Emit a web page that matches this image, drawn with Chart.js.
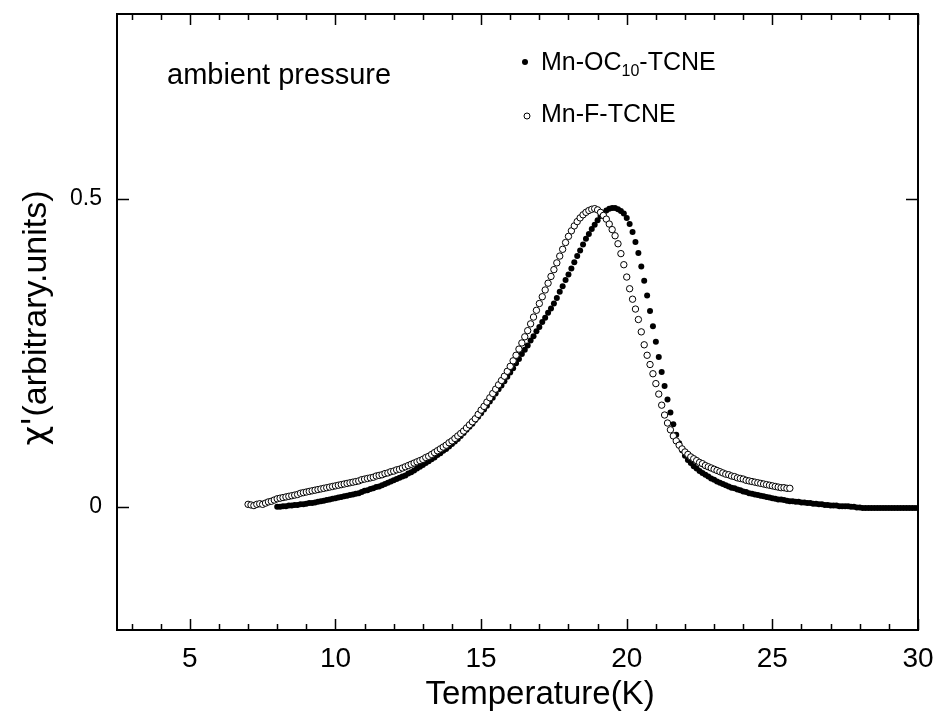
<!DOCTYPE html>
<html lang="en">
<head>
    <meta charset="UTF-8">
    <title>Ambient pressure susceptibility</title>
    <script src="https://cdn.jsdelivr.net/npm/chart.js"></script>
    <style>
        body { margin: 0; padding: 0; background: #fff; }
        canvas { display: block; }
    </style>
</head>
<body>
    <canvas id="chiChart" width="934" height="714"></canvas>

    <script>
        // Mn-OC10-TCNE (filled dots)
        const ocTemps = [
            8.0, 8.1, 8.2, 8.3, 8.4, 8.5, 8.6, 8.7, 8.8, 8.9,
            9.0, 9.1, 9.2, 9.3, 9.4, 9.5, 9.6, 9.7, 9.8, 9.9,
            10.0, 10.1, 10.2, 10.3, 10.4, 10.5, 10.6, 10.7, 10.8, 10.9,
            11.0, 11.1, 11.2, 11.3, 11.4, 11.5, 11.6, 11.7, 11.8, 11.9,
            12.0, 12.1, 12.2, 12.3, 12.4, 12.5, 12.6, 12.7, 12.8, 12.9,
            13.0, 13.1, 13.2, 13.3, 13.4, 13.5, 13.6, 13.7, 13.8, 13.9,
            14.0, 14.1, 14.2, 14.3, 14.4, 14.5, 14.6, 14.7, 14.8, 14.9,
            15.0, 15.1, 15.2, 15.3, 15.4, 15.5, 15.6, 15.7, 15.8, 15.9,
            16.0, 16.1, 16.2, 16.3, 16.4, 16.5, 16.6, 16.7, 16.8, 16.9,
            17.0, 17.1, 17.2, 17.3, 17.4, 17.5, 17.6, 17.7, 17.8, 17.9,
            18.0, 18.1, 18.2, 18.3, 18.4, 18.5, 18.6, 18.7, 18.8, 18.9,
            19.0, 19.1, 19.2, 19.3, 19.4, 19.5, 19.6, 19.7, 19.8, 19.9,
            20.0, 20.1, 20.2, 20.3, 20.4, 20.5, 20.6, 20.7, 20.8, 20.9,
            21.0, 21.1, 21.2, 21.3, 21.4, 21.5, 21.6, 21.7, 21.8, 21.9,
            22.0, 22.1, 22.2, 22.3, 22.4, 22.5, 22.6, 22.7, 22.8, 22.9,
            23.0, 23.1, 23.2, 23.3, 23.4, 23.5, 23.6, 23.7, 23.8, 23.9,
            24.0, 24.1, 24.2, 24.3, 24.4, 24.5, 24.6, 24.7, 24.8, 24.9,
            25.0, 25.1, 25.2, 25.3, 25.4, 25.5, 25.6, 25.7, 25.8, 25.9,
            26.0, 26.1, 26.2, 26.3, 26.4, 26.5, 26.6, 26.7, 26.8, 26.9,
            27.0, 27.1, 27.2, 27.3, 27.4, 27.5, 27.6, 27.7, 27.8, 27.9,
            28.0, 28.1, 28.2, 28.3, 28.4, 28.5, 28.6, 28.7, 28.8, 28.9,
            29.0, 29.1, 29.2, 29.3, 29.4, 29.5, 29.6, 29.7, 29.8, 29.9,
            30.0
        ];
        const ocChi = [
            0.000, 0.000, 0.001, 0.001, 0.002, 0.002, 0.003, 0.003, 0.004, 0.004,
            0.005, 0.006, 0.006, 0.007, 0.008, 0.009, 0.010, 0.011, 0.012, 0.013,
            0.014, 0.015, 0.016, 0.017, 0.018, 0.019, 0.020, 0.021, 0.022, 0.024,
            0.026, 0.027, 0.029, 0.030, 0.032, 0.033, 0.035, 0.037, 0.039, 0.041,
            0.043, 0.045, 0.047, 0.049, 0.051, 0.054, 0.056, 0.059, 0.062, 0.065,
            0.068, 0.071, 0.074, 0.077, 0.080, 0.084, 0.087, 0.091, 0.094, 0.098,
            0.102, 0.106, 0.110, 0.115, 0.120, 0.125, 0.130, 0.135, 0.141, 0.146,
            0.152, 0.158, 0.164, 0.171, 0.177, 0.184, 0.191, 0.197, 0.204, 0.211,
            0.218, 0.225, 0.233, 0.240, 0.248, 0.255, 0.262, 0.270, 0.277, 0.285,
            0.292, 0.300, 0.307, 0.315, 0.322, 0.330, 0.339, 0.349, 0.358, 0.368,
            0.377, 0.387, 0.397, 0.407, 0.416, 0.426, 0.435, 0.443, 0.451, 0.458,
            0.465, 0.472, 0.477, 0.481, 0.484, 0.485, 0.485, 0.483, 0.480, 0.476,
            0.469, 0.459, 0.446, 0.430, 0.412, 0.390, 0.367, 0.343, 0.318, 0.293,
            0.268, 0.243, 0.219, 0.196, 0.174, 0.153, 0.134, 0.117, 0.103, 0.092,
            0.083, 0.076, 0.071, 0.066, 0.062, 0.058, 0.055, 0.052, 0.049, 0.046,
            0.044, 0.041, 0.039, 0.037, 0.035, 0.033, 0.031, 0.030, 0.028, 0.027,
            0.025, 0.024, 0.022, 0.021, 0.020, 0.019, 0.018, 0.017, 0.016, 0.015,
            0.014, 0.013, 0.012, 0.012, 0.011, 0.010, 0.009, 0.009, 0.008, 0.008,
            0.007, 0.007, 0.006, 0.006, 0.005, 0.005, 0.004, 0.004, 0.003, 0.003,
            0.002, 0.002, 0.002, 0.001, 0.001, 0.001, 0.001, 0.000, 0.000, -0.001,
            -0.001, -0.002, -0.002, -0.002, -0.002, -0.002, -0.002, -0.002, -0.002, -0.002,
            -0.002, -0.002, -0.002, -0.002, -0.002, -0.002, -0.002, -0.002, -0.002, -0.002,
            -0.002
        ];

        // Mn-F-TCNE (open circles)
        const fTemps = [
            7.0, 7.1, 7.2, 7.3, 7.4, 7.5, 7.6, 7.7, 7.8, 7.9,
            8.0, 8.1, 8.2, 8.3, 8.4, 8.5, 8.6, 8.7, 8.8, 8.9,
            9.0, 9.1, 9.2, 9.3, 9.4, 9.5, 9.6, 9.7, 9.8, 9.9,
            10.0, 10.1, 10.2, 10.3, 10.4, 10.5, 10.6, 10.7, 10.8, 10.9,
            11.0, 11.1, 11.2, 11.3, 11.4, 11.5, 11.6, 11.7, 11.8, 11.9,
            12.0, 12.1, 12.2, 12.3, 12.4, 12.5, 12.6, 12.7, 12.8, 12.9,
            13.0, 13.1, 13.2, 13.3, 13.4, 13.5, 13.6, 13.7, 13.8, 13.9,
            14.0, 14.1, 14.2, 14.3, 14.4, 14.5, 14.6, 14.7, 14.8, 14.9,
            15.0, 15.1, 15.2, 15.3, 15.4, 15.5, 15.6, 15.7, 15.8, 15.9,
            16.0, 16.1, 16.2, 16.3, 16.4, 16.5, 16.6, 16.7, 16.8, 16.9,
            17.0, 17.1, 17.2, 17.3, 17.4, 17.5, 17.6, 17.7, 17.8, 17.9,
            18.0, 18.1, 18.2, 18.3, 18.4, 18.5, 18.6, 18.7, 18.8, 18.9,
            19.0, 19.1, 19.2, 19.3, 19.4, 19.5, 19.6, 19.7, 19.8, 19.9,
            20.0, 20.1, 20.2, 20.3, 20.4, 20.5, 20.6, 20.7, 20.8, 20.9,
            21.0, 21.1, 21.2, 21.3, 21.4, 21.5, 21.6, 21.7, 21.8, 21.9,
            22.0, 22.1, 22.2, 22.3, 22.4, 22.5, 22.6, 22.7, 22.8, 22.9,
            23.0, 23.1, 23.2, 23.3, 23.4, 23.5, 23.6, 23.7, 23.8, 23.9,
            24.0, 24.1, 24.2, 24.3, 24.4, 24.5, 24.6, 24.7, 24.8, 24.9,
            25.0, 25.1, 25.2, 25.3, 25.4, 25.5, 25.6
        ];
        const fChi = [
            0.004, 0.003, 0.002, 0.004, 0.005, 0.004, 0.006, 0.008, 0.009, 0.011,
            0.013, 0.014, 0.015, 0.016, 0.017, 0.018, 0.019, 0.020, 0.022, 0.023,
            0.024, 0.025, 0.026, 0.027, 0.028, 0.029, 0.030, 0.031, 0.032, 0.033,
            0.034, 0.035, 0.036, 0.037, 0.038, 0.039, 0.040, 0.041, 0.042, 0.044,
            0.045, 0.046, 0.047, 0.048, 0.050, 0.051, 0.052, 0.054, 0.055, 0.057,
            0.058, 0.060, 0.061, 0.063, 0.065, 0.067, 0.069, 0.071, 0.073, 0.075,
            0.077, 0.080, 0.082, 0.085, 0.088, 0.091, 0.094, 0.097, 0.100, 0.104,
            0.107, 0.111, 0.115, 0.119, 0.123, 0.128, 0.133, 0.138, 0.143, 0.150,
            0.157, 0.163, 0.170, 0.177, 0.184, 0.191, 0.198, 0.205, 0.212, 0.220,
            0.228, 0.237, 0.246, 0.256, 0.266, 0.276, 0.286, 0.297, 0.308, 0.319,
            0.330, 0.341, 0.352, 0.363, 0.374, 0.385, 0.396, 0.407, 0.418, 0.429,
            0.439, 0.448, 0.456, 0.463, 0.469, 0.474, 0.478, 0.481, 0.483, 0.484,
            0.482, 0.478, 0.473, 0.467, 0.459, 0.450, 0.440, 0.427, 0.411, 0.393,
            0.373, 0.354, 0.337, 0.321, 0.304, 0.284, 0.263, 0.246, 0.231, 0.216,
            0.200, 0.183, 0.165, 0.149, 0.136, 0.125, 0.115, 0.107, 0.100, 0.094,
            0.089, 0.085, 0.081, 0.078, 0.075, 0.072, 0.070, 0.067, 0.065, 0.063,
            0.061, 0.059, 0.057, 0.055, 0.053, 0.052, 0.050, 0.049, 0.047, 0.046,
            0.045, 0.043, 0.042, 0.041, 0.040, 0.039, 0.038, 0.037, 0.036, 0.035,
            0.034, 0.033, 0.032, 0.031, 0.031, 0.030, 0.030
        ];

        const xMinorTicks = [3, 4, 6, 7, 8, 9, 11, 12, 13, 14, 16, 17, 18, 19, 21, 22, 23, 24, 26, 27, 28, 29];
        const xMajorTicks = [5, 10, 15, 20, 25, 30];
        const yMajorTicks = [0, 0.5];
        const yTickLabels = ['0', '0.5'];

        const toPoints = (xs, ys) => xs.map((x, i) => ({ x: x, y: ys[i] }));

        const NARROW = "'Liberation Sans Narrow', 'Liberation Sans', Arial, sans-serif";
        const SANS = "'Liberation Sans', Arial, sans-serif";

        // frame, inward ticks, labels and legend drawn on top of the chart area
        const decorations = {
            id: 'decorations',
            afterDraw(chart) {
                const { ctx, chartArea: a, scales: { x, y } } = chart;
                ctx.save();
                ctx.strokeStyle = '#000';
                ctx.lineWidth = 2;
                ctx.strokeRect(a.left, a.top, a.right - a.left, a.bottom - a.top);

                ctx.lineWidth = 1.5;
                ctx.beginPath();
                const xTick = (t, len) => {
                    const px = Math.round(x.getPixelForValue(t)) + 0.5;
                    ctx.moveTo(px, a.bottom); ctx.lineTo(px, a.bottom - len);
                    ctx.moveTo(px, a.top); ctx.lineTo(px, a.top + len);
                };
                xMinorTicks.forEach(t => xTick(t, 6));
                xMajorTicks.forEach(t => xTick(t, 11));
                yMajorTicks.forEach(v => {
                    const py = Math.round(y.getPixelForValue(v)) + 0.5;
                    ctx.moveTo(a.left, py); ctx.lineTo(a.left + 12, py);
                    ctx.moveTo(a.right, py); ctx.lineTo(a.right - 12, py);
                });
                ctx.stroke();

                ctx.fillStyle = '#000';
                ctx.textBaseline = 'middle';
                ctx.textAlign = 'left';

                // annotation
                ctx.font = '29px ' + SANS;
                ctx.fillText('ambient pressure', 167, 76);

                // legend
                ctx.font = '25px ' + SANS;
                ctx.beginPath();
                ctx.arc(525, 62, 3, 0, Math.PI * 2);
                ctx.fill();
                let tx = 541;
                ctx.fillText('Mn-OC', tx, 63);
                tx += ctx.measureText('Mn-OC').width;
                ctx.font = '16px ' + SANS;
                ctx.fillText('10', tx, 72);
                tx += ctx.measureText('10').width;
                ctx.font = '25px ' + SANS;
                ctx.fillText('-TCNE', tx, 63);

                ctx.beginPath();
                ctx.arc(527, 116, 3, 0, Math.PI * 2);
                ctx.fillStyle = '#fff';
                ctx.fill();
                ctx.lineWidth = 1;
                ctx.stroke();
                ctx.fillStyle = '#000';
                ctx.fillText('Mn-F-TCNE', 541, 115);

                // y axis title
                ctx.save();
                ctx.translate(37, 318);
                ctx.rotate(-Math.PI / 2);
                ctx.font = "34px 'DejaVu Sans', sans-serif";
                const chiW = ctx.measureText("\u03c7'").width;
                ctx.font = '34px ' + NARROW;
                const restW = ctx.measureText('(arbitrary.units)').width;
                const sx = -(chiW + restW) / 2;
                ctx.font = "34px 'DejaVu Sans', sans-serif";
                ctx.fillText("\u03c7'", sx, 0);
                ctx.font = '34px ' + NARROW;
                ctx.fillText('(arbitrary.units)', sx + chiW, 0);
                ctx.restore();

                // x axis title
                ctx.textAlign = 'center';
                ctx.font = '33px ' + NARROW;
                ctx.fillText('Temperature(K)', 540, 695);
                ctx.restore();
            }
        };

        new Chart(document.getElementById('chiChart'), {
            type: 'scatter',
            data: {
                datasets: [
                    {
                        label: 'Mn-F-TCNE',
                        data: toPoints(fTemps, fChi),
                        pointRadius: 3.2,
                        pointBorderWidth: 1,
                        pointBackgroundColor: '#fff',
                        pointBorderColor: '#000',
                        order: 0
                    },
                    {
                        label: 'Mn-OC10-TCNE',
                        data: toPoints(ocTemps, ocChi),
                        pointRadius: 3,
                        pointBorderWidth: 0,
                        pointBackgroundColor: '#000',
                        pointBorderColor: '#000',
                        order: 1
                    }
                ]
            },
            options: {
                responsive: false,
                animation: false,
                layout: { autoPadding: false, padding: { left: 0, right: 16, top: 14, bottom: 0 } },
                plugins: {
                    legend: { display: false },
                    tooltip: { enabled: false }
                },
                scales: {
                    x: {
                        type: 'linear',
                        min: 2.5,
                        max: 30,
                        afterFit(scale) {
                            scale.height = 84;
                            scale.paddingLeft = 0;
                            scale.paddingRight = 0;
                        },
                        afterBuildTicks(scale) { scale.ticks = xMajorTicks.map(v => ({ value: v })); },
                        grid: { display: false, drawTicks: false },
                        border: { display: false },
                        ticks: {
                            padding: 12,
                            color: '#000',
                            maxRotation: 0,
                            font: { family: NARROW, size: 28 },
                            callback: v => String(v)
                        }
                    },
                    y: {
                        type: 'linear',
                        min: -0.2,
                        max: 0.8,
                        afterFit(scale) {
                            scale.width = 117;
                            scale.paddingTop = 0;
                            scale.paddingBottom = 0;
                        },
                        afterBuildTicks(scale) { scale.ticks = yMajorTicks.map(v => ({ value: v })); },
                        grid: { display: false, drawTicks: false },
                        border: { display: false },
                        ticks: {
                            padding: 15,
                            color: '#000',
                            font: { family: SANS, size: 23 },
                            callback: v => yTickLabels[yMajorTicks.indexOf(v)]
                        }
                    }
                }
            },
            plugins: [decorations]
        });
    </script>
</body>
</html>
